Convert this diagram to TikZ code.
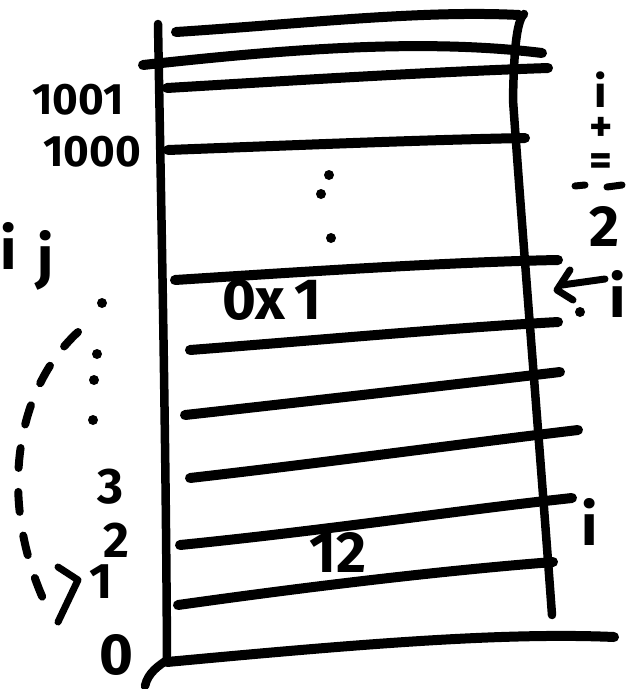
\documentclass[tikz,border=0pt]{standalone}
\usepackage{fontspec}
\setmainfont{Fira Sans}
\begin{document}
\begin{tikzpicture}[x=1pt,y=-1pt,
  hline/.style={line width=10pt,line cap=round,black},
  vline/.style={line width=8.5pt,line cap=round,black},
  stroke/.style={line width=7pt,line cap=round,line join=round,black},
  dashstroke/.style={line width=8pt,line cap=round,black,dash pattern=on 20pt off 24pt},
  lbl/.style={inner sep=0pt,font=\bfseries\fontsize{44}{46}\selectfont},
  numlbl/.style={inner sep=0pt,font=\bfseries\fontsize{50}{52}\selectfont},
  stacklbl/.style={inner sep=0pt,align=center,font=\bfseries\fontsize{44}{34}\selectfont},
  biglbl/.style={inner sep=0pt,font=\bfseries\fontsize{58}{60}\selectfont},
  dotm/.style={circle,fill=black,inner sep=0pt,minimum size=10pt}]
\useasboundingbox (0,0) rectangle (637,689);
% vertical borders
\draw[vline] (158,24) .. controls (162,250) and (166,450) .. (167,660)
  .. controls (160,665) and (148,672) .. (145,686);
\draw[vline] (524,14) .. controls (518,20) and (514,40) .. (513,100)
  .. controls (522,230) and (540,450) .. (552,615);
% horizontal lines
\draw[hline] (176,32) .. controls (300,24) and (420,10) .. (519,15);
\draw[hline] (143,65) .. controls (280,50) and (420,38) .. (542,53);
\draw[hline] (167,88) .. controls (300,80) and (430,72) .. (548,68);
\draw[hline] (168,150) .. controls (300,145) and (420,140) .. (525,138);
\draw[hline] (175,280) .. controls (300,272) and (450,262) .. (558,260);
\draw[hline] (190,350) .. controls (320,340) and (450,328) .. (558,322);
\draw[hline] (185,415) .. controls (320,400) and (450,385) .. (560,372);
\draw[hline] (190,478) .. controls (330,462) and (460,444) .. (578,430);
\draw[hline] (180,545) .. controls (330,530) and (460,510) .. (572,498);
\draw[hline] (178,605) .. controls (320,585) and (450,570) .. (553,562);
\draw[hline] (167,662) .. controls (350,645) and (500,632) .. (614,637);
% address labels
\node[lbl] (a1001) at (78,100) {1001};
\node[lbl] (a1000) at (92,152) {1000};
\node[numlbl] (a3) at (110,487) {3};
\node[numlbl] (a2) at (116,540) {2};
\node[numlbl] (a1) at (101,582) {1};
\node[biglbl] (a0) at (116,655) {0};
% cell contents
\node[biglbl] (c0x1) at (272,300) {0x\,1};
\node[biglbl] (c12) at (338,552) {12};
% dots
\node[dotm] (d1) at (329,175) {};
\node[dotm] (d2) at (321,194) {};
\node[dotm] (d3) at (331,238) {};
\node[dotm] (e1) at (102,303) {};
\node[dotm] (e2) at (97,354) {};
\node[dotm] (e3) at (94,380) {};
\node[dotm] (e4) at (93,420) {};
% left i j
\node[biglbl] (li) at (9,246) {i};
\node[biglbl] (lj) at (46,260) {j};
% dashed arc
\coordinate (arcs) at (78,332);
\coordinate (arce) at (45,603);
\draw[dashstroke] (arcs) .. controls (15,390) and (-2,500) .. (arce);
\draw[stroke] (58,567) -- (78,580) -- (58,622);
% right text
\node[stacklbl] (rstack) at (601,124) {i\\+\\=};
\draw[stroke] (575,186) -- (585,185);
\draw[stroke] (607,187) -- (622,185);
\node[biglbl] (r2) at (604,226) {2};
\draw[stroke] (605,279) -- (562,285);
\draw[stroke] (570,270) -- (557,290) -- (573,300);
\node[dotm] (rd) at (580,312) {};
\node[biglbl] (rj) at (618,294) {i};
\node[biglbl] (pi) at (590,522) {i};
\end{tikzpicture}
\end{document}
